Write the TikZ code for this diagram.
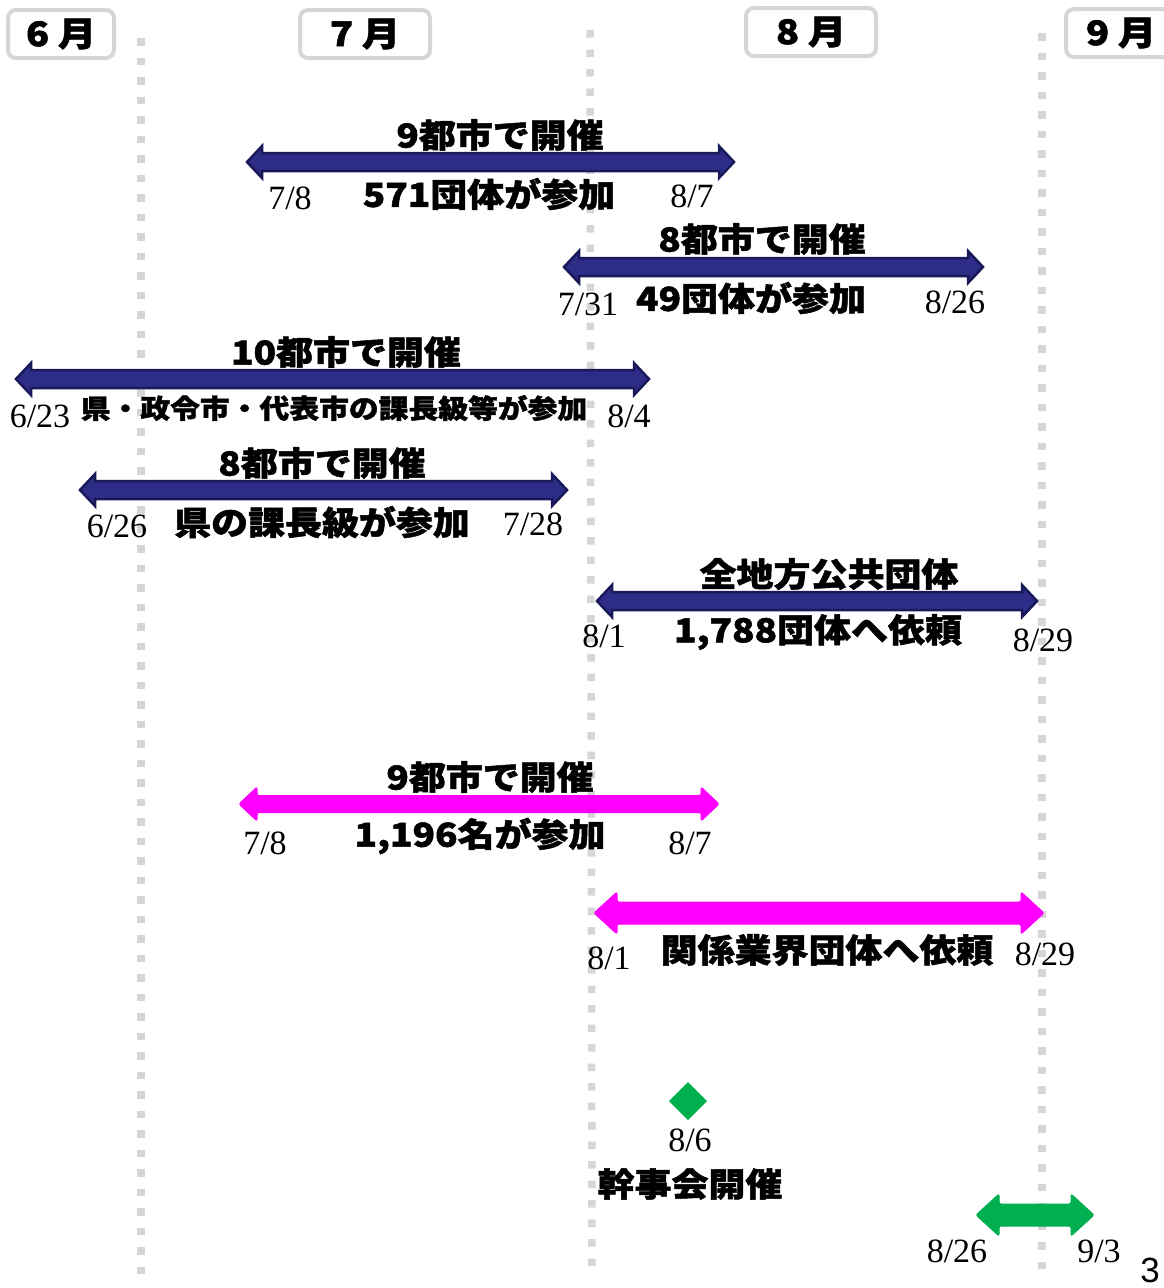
\documentclass[tikz,border=0pt]{standalone}
\usepackage{fontspec}
\setmainfont{Liberation Serif}
\newfontfamily\jp{Noto Sans CJK JP}[FakeStretch=1.12,BoldFeatures={FakeBold=1.5}]
\newfontfamily\sans{Liberation Sans}
\definecolor{navyfill}{RGB}{45,45,135}
\definecolor{navyedge}{RGB}{25,25,90}
\definecolor{mag}{RGB}{255,0,255}
\definecolor{grn}{RGB}{0,176,80}
\definecolor{dotgray}{RGB}{214,214,214}
\newcommand{\dblarrow}[7]{%
  \path[#1] (#2,#4) -- ({#2+#7},{#4-#6}) -- ({#2+#7},{#4-#5}) -- ({#3-#7},{#4-#5}) -- ({#3-#7},{#4-#6}) -- (#3,#4) -- ({#3-#7},{#4+#6}) -- ({#3-#7},{#4+#5}) -- ({#2+#7},{#4+#5}) -- ({#2+#7},{#4+#6}) -- cycle;}
\begin{document}
\begin{tikzpicture}[x=1pt,y=-1pt,
  dotline/.style={draw=dotgray,line width=7.5pt,dash pattern=on 7.5pt off 12pt},
  monthbox/.style={draw=dotgray,line width=4pt,fill=white,rounded corners=8pt,minimum height=48pt,inner sep=0pt,font=\jp\bfseries\fontsize{34}{40}\selectfont},
  navyarrow/.style={fill=navyfill,draw=navyedge,line width=2.5pt,line join=miter},
  magarrow/.style={fill=mag,draw=mag,line width=1pt,rounded corners=2pt},
  grnarrow/.style={fill=grn,draw=grn,line width=1pt,rounded corners=2pt},
  jlab/.style={font=\jp\bfseries\fontsize{33}{38}\selectfont,inner sep=0pt,anchor=center},
  jsmall/.style={font=\jp\bfseries\fontsize{26.6}{30}\selectfont,inner sep=0pt,anchor=center},
  date/.style={font=\fontsize{34}{38}\selectfont,inner sep=0pt,anchor=center}]
\useasboundingbox[fill=white] (0,0) rectangle (1164,1288);
% month dividers
\draw[dotline] (141,38) -- (141,1278);
\draw[dotline] (590,30) -- (592,1278);
\draw[dotline] (1042,33) -- (1042,1278);
% month boxes
\node[monthbox,minimum width=106pt] (m6) at (61,34) {6 月};
\node[monthbox,minimum width=130pt] (m7) at (365,34) {7 月};
\node[monthbox,minimum width=130pt] (m8) at (811,32) {8 月};
\node[monthbox,minimum width=110pt] (m9) at (1121,33) {9 月};
% arrow 1
\dblarrow{navyarrow}{247}{734}{162}{9}{16}{15}
\node[jlab] (t1a) at (500,135) {9都市で開催};
\node[date] (d1a) at (290,198) {7/8};
\node[jlab] (t1b) at (489,194) {571団体が参加};
\node[date] (d1b) at (692,196) {8/7};
% arrow 2
\dblarrow{navyarrow}{564}{983}{267}{9}{16}{15}
\node[jlab] (t2a) at (762,239) {8都市で開催};
\node[date] (d2a) at (588,304) {7/31};
\node[jlab] (t2b) at (751,298) {49団体が参加};
\node[date] (d2b) at (955,302) {8/26};
% arrow 3
\dblarrow{navyarrow}{16}{649}{379}{9}{16}{15}
\node[jlab] (t3a) at (346,352) {10都市で開催};
\node[date] (d3a) at (40,416) {6/23};
\node[jsmall] (t3b) at (334,408) {県・政令市・代表市の課長級等が参加};
\node[date] (d3b) at (629,416) {8/4};
% arrow 4
\dblarrow{navyarrow}{80}{567}{490}{9}{16}{15}
\node[jlab] (t4a) at (322,463) {8都市で開催};
\node[date] (d4a) at (117,526) {6/26};
\node[jlab] (t4b) at (322,522) {県の課長級が参加};
\node[date] (d4b) at (533,524) {7/28};
% arrow 5
\dblarrow{navyarrow}{597}{1037}{601}{9}{16}{15}
\node[jlab] (t5a) at (829,574) {全地方公共団体};
\node[date] (d5a) at (604,636) {8/1};
\node[jlab] (t5b) at (818,632) {1,788団体へ依頼};
\node[date] (d5b) at (1043,640) {8/29};
% arrow 6 (magenta)
\dblarrow{magarrow}{239}{719}{804}{8.5}{17}{18}
\node[jlab] (t6a) at (490,777) {9都市で開催};
\node[date] (d6a) at (265,843) {7/8};
\node[jlab] (t6b) at (480,836) {1,196名が参加};
\node[date] (d6b) at (690,843) {8/7};
% arrow 7 (magenta)
\dblarrow{magarrow}{594}{1044}{913}{11}{21}{23}
\node[date] (d7a) at (609,958) {8/1};
\node[jlab] (t7) at (827,950) {関係業界団体へ依頼};
\node[date] (d7b) at (1045,954) {8/29};
% diamond
\path[fill=grn] (688,1082) -- (707,1101) -- (688,1120) -- (669,1101) -- cycle;
\node[date] (d8) at (690,1140) {8/6};
\node[jlab] (t8) at (690,1184) {幹事会開催};
% green arrow
\dblarrow{grnarrow}{976}{1094}{1215}{11}{21}{23}
\node[date] (d9a) at (957,1251) {8/26};
\node[date] (d9b) at (1099,1251) {9/3};
\node[font=\sans\fontsize{35}{40}\selectfont,inner sep=0pt] (pg) at (1150,1270) {3};
\end{tikzpicture}
\end{document}
